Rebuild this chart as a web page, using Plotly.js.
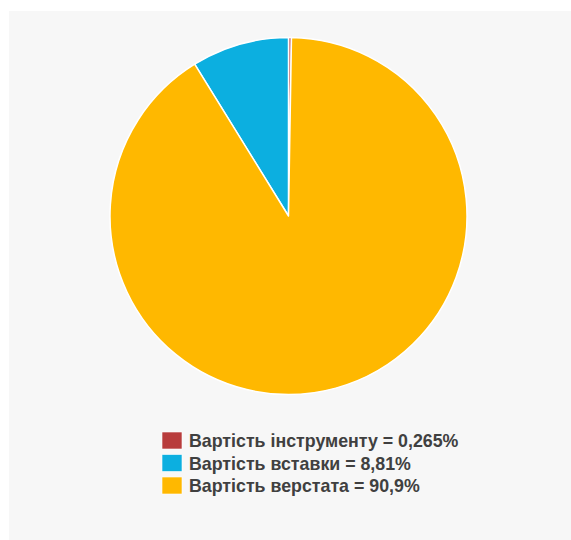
<!DOCTYPE html>
<html>
<head>
<meta charset="utf-8">
<script src="https://cdn.plot.ly/plotly-3.0.1.min.js"></script>
<style>
  html, body { margin: 0; padding: 0; background: #ffffff; }
  #chart { position: absolute; left: 9px; top: 11px; width: 562px; height: 529px; }
</style>
</head>
<body>
<div id="chart"></div>
<script>
// Data
const labels = ["Вартість інструменту", "Вартість вставки", "Вартість верстата"];
const values = [0.265, 8.81, 90.9];
const valueText = ["0,265%", "8,81%", "90,9%"];
const colors = ["#b83c3c", "#0cafe0", "#ffb800"];

const W = 562, H = 529;
const px = x => x / W;
const py = y => 1 - y / H;

// Pie geometry (pixels inside the panel)
const cx = 279.5, cy = 205, r = 178.5;

const trace = {
  type: "pie",
  labels: labels,
  values: values,
  sort: false,
  direction: "counterclockwise",
  rotation: 0,
  textinfo: "none",
  hoverinfo: "label+percent",
  marker: { colors: colors, line: { color: "#ffffff", width: 1.5 } },
  domain: { x: [px(cx - r), px(cx + r)], y: [py(cy + r), py(cy - r)] },
  showlegend: false
};

// Legend built from the data arrays
const legX = 153, legTextX = 178, legY0 = 429.5, legDY = 22.5, boxW = 20, boxH = 17;
const shapes = [], annotations = [];
labels.forEach((lab, i) => {
  const yc = legY0 + i * legDY;
  shapes.push({
    type: "rect", xref: "paper", yref: "paper",
    x0: px(legX), x1: px(legX + boxW), y0: py(yc + boxH / 2), y1: py(yc - boxH / 2),
    fillcolor: colors[i], line: { color: "rgba(255,255,255,0.6)", width: 1 }
  });
  annotations.push({
    xref: "paper", yref: "paper", x: px(legTextX), y: py(yc + 0.5),
    xanchor: "left", yanchor: "middle", showarrow: false,
    text: "<b>" + lab + " = " + valueText[i] + "</b>",
    font: { family: "Liberation Sans, Arial, sans-serif", size: 17.8, color: "#404040" }
  });
});

const layout = {
  width: W, height: H,
  margin: { l: 0, r: 0, t: 0, b: 0 },
  paper_bgcolor: "#f7f7f7",
  plot_bgcolor: "#f7f7f7",
  shapes: shapes,
  annotations: annotations,
  showlegend: false
};

Plotly.newPlot("chart", [trace], layout, { displayModeBar: false, staticPlot: true });
</script>
</body>
</html>
